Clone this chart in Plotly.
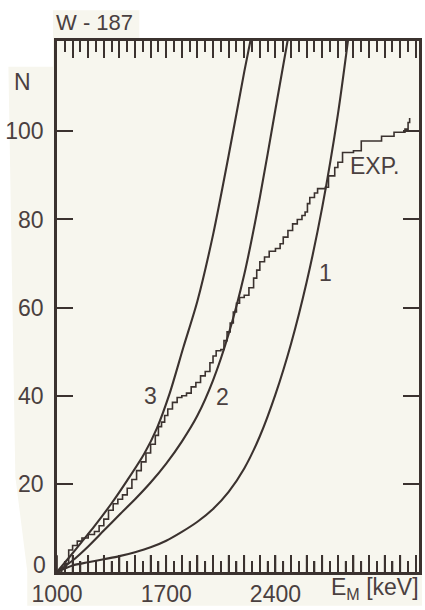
import plotly.graph_objects as go

# ---------------- data ----------------
curve1_E = [1000, 1100, 1200, 1300, 1400, 1500, 1600, 1700, 1800, 1900, 2000, 2100,
            2200, 2300, 2400, 2500, 2600, 2700, 2800, 2870]
curve1_N = [0, 1.5, 2.2, 2.9, 3.6, 4.5, 5.6, 7.1, 9.1, 11.4, 14.3, 18.2,
            23.5, 30.8, 40.3, 51.8, 65.8, 82.8, 103.8, 122.0]

curve2_E = [1000, 1100, 1200, 1300, 1400, 1500, 1600, 1700, 1800, 1900, 2000, 2100,
            2200, 2300, 2400, 2480]
curve2_N = [0, 2.6, 5.8, 9.4, 13.0, 16.5, 20.3, 24.6, 29.6, 35.5, 43.5, 54.0,
            67.5, 85.0, 105.0, 121.0]

curve3_E = [1000, 1080, 1160, 1240, 1350, 1450, 1560, 1640, 1720, 1810, 1900, 2000,
            2100, 2200, 2245]
curve3_N = [0, 3.4, 6.9, 10.4, 15.6, 20.8, 26.9, 32.6, 40.3, 51.0, 61.5, 76.5,
            94.5, 113.5, 121.5]

exp_E = [1000, 1030, 1060, 1075, 1100, 1130, 1160, 1200, 1240, 1270, 1300, 1330, 1360,
         1390, 1420, 1450, 1480, 1510, 1540, 1570, 1600, 1630, 1650, 1670, 1690, 1710,
         1740, 1770, 1800, 1830, 1860, 1890, 1920, 1950, 1980, 2000, 2020, 2050, 2070,
         2090, 2110, 2130, 2150, 2170, 2200, 2230, 2260, 2280, 2300, 2330, 2360, 2400,
         2430, 2450, 2480, 2510, 2540, 2570, 2590, 2605, 2620, 2650, 2670, 2720, 2740,
         2780, 2800, 2830, 2900, 2950, 3080, 3160, 3230, 3250, 3260]
exp_N = [0, 1, 2, 5, 6, 7, 7.7, 8.5, 9.2, 10.5, 12, 14, 15.5,
         16.5, 17.5, 19, 21, 23, 25, 27, 29, 31, 33, 34, 35.5, 37,
         38.5, 39.6, 40, 40.6, 42, 43, 44.5, 45.5, 47.5, 49, 50.2, 50.5, 52.5,
         54.5, 56.5, 59, 61, 62.3, 62.8, 64.5, 66.7, 68.5, 70.4, 71.5, 72.8, 73.4,
         74.5, 76, 77.5, 79, 80, 80.9, 81.7, 83.6, 85, 86, 87, 87.3, 89.9,
         91.8, 93, 95.2, 95.6, 97.8, 98.9, 99.8, 100.5, 102, 103]

x_tick_labels = {1000: "1000", 1700: "1700", 2400: "2400"}
y_tick_vals = [20, 40, 60, 80, 100]

curve_labels = ["1", "2", "3", "EXP."]
curve_label_E = [2720, 2058, 1602, 3037]
curve_label_N = [67.8, 39.8, 40.0, 92.2]

# ---------------- style ----------------
W, H = 425, 610
L, R, T, B = 57, 3, 41, 34
X_RANGE = [1000, 3320]
Y_RANGE = [0, 120.5]
INK = "#3b322f"
TXT = "#4a4040"
CREAM = "#f7f6ee"
FONT = "Liberation Sans, Arial, sans-serif"
FS = 23

pw, ph = W - L - R, H - T - B
PX_PER_N = ph / (Y_RANGE[1] - Y_RANGE[0])


def px(xp):
    return (xp - L) / pw


def py(yp):
    return (H - B - yp) / ph


fig = go.Figure()

for E, N in [(curve1_E, curve1_N), (curve2_E, curve2_N), (curve3_E, curve3_N)]:
    fig.add_trace(go.Scatter(x=E, y=N, mode="lines",
                             line=dict(color=INK, width=2.1, shape="spline", smoothing=0.8),
                             hoverinfo="skip", showlegend=False))

fig.add_trace(go.Scatter(x=exp_E, y=exp_N, mode="lines",
                         line=dict(color=INK, width=1.6, shape="hv"),
                         hoverinfo="skip", showlegend=False))

# backup for the bottom frame ticks (long every 100 keV, short in between)
tick_E = list(range(X_RANGE[0], X_RANGE[1] + 1, 50))
tick_len = [(17 if e % 100 == 0 else 11) / PX_PER_N for e in tick_E]
fig.add_trace(go.Scatter(x=tick_E, y=[0] * len(tick_E), mode="markers",
                         marker=dict(size=1, color="rgba(0,0,0,0)"),
                         error_y=dict(type="data", symmetric=False, array=tick_len,
                                      arrayminus=[0] * len(tick_E), width=0,
                                      thickness=1.7, color=INK),
                         hoverinfo="skip", showlegend=False))

major = list(range(1000, 3301, 100))
fig.update_layout(
    width=W, height=H,
    margin=dict(l=L, r=R, t=T, b=B),
    paper_bgcolor="white",
    plot_bgcolor=CREAM,
    font=dict(family=FONT, size=FS, color=TXT),
    xaxis=dict(range=X_RANGE, tickmode="array", tickvals=major,
               ticktext=[x_tick_labels.get(v, "") for v in major],
               ticks="inside", ticklen=17, tickwidth=1.8, tickcolor=INK,
               minor=dict(tickmode="linear", tick0=1050, dtick=100, ticks="inside",
                          ticklen=11, tickwidth=1.6, tickcolor=INK, showgrid=False),
               showline=True, linewidth=2.5, linecolor=INK, mirror="ticks",
               showgrid=False, zeroline=False,
               tickfont=dict(size=FS, color=TXT, family=FONT)),
    yaxis=dict(range=Y_RANGE, tickmode="array", tickvals=y_tick_vals,
               ticks="inside", ticklen=16, tickcolor=INK, tickwidth=1.8,
               showline=True, linewidth=2.5, linecolor=INK, mirror="ticks",
               showgrid=False, zeroline=False, ticklabelstandoff=6,
               tickfont=dict(size=FS, color=TXT, family=FONT)),
)

# cream paper area (scanned page)
pts = [(8, 67), (53, 67), (53, 10), (140, 10), (140, 38), (425, 38), (425, 610),
       (27, 610), (27, 575), (15, 480)]
path = "M " + " L ".join(f"{px(a):.4f},{py(b):.4f}" for a, b in pts) + " Z"
fig.add_shape(type="path", path=path, xref="paper", yref="paper",
              fillcolor=CREAM, line=dict(width=0), layer="below")

ann = [
    dict(text="W - 187", x=px(95), y=py(22), xref="paper", yref="paper",
         xanchor="center", yanchor="middle", font=dict(size=22)),
    dict(text="N", x=px(22), y=py(82), xref="paper", yref="paper",
         xanchor="center", yanchor="middle"),
    dict(text="0", x=px(39), y=0, xref="paper", yref="y",
         xanchor="center", yanchor="middle", yshift=7),
    dict(text="E<sub>M</sub> [keV]", x=px(424), y=py(593), xref="paper", yref="paper",
         xanchor="right", yanchor="middle"),
]
for t, e, n in zip(curve_labels, curve_label_E, curve_label_N):
    ann.append(dict(text=t, x=e, y=n, xref="x", yref="y",
                    xanchor="center", yanchor="middle"))
for a in ann:
    a.setdefault("showarrow", False)
    a.setdefault("font", dict(size=FS))
    a["font"] = dict(family=FONT, color=TXT, size=a["font"].get("size", FS))
    fig.add_annotation(**a)

fig.write_html("out.html")
